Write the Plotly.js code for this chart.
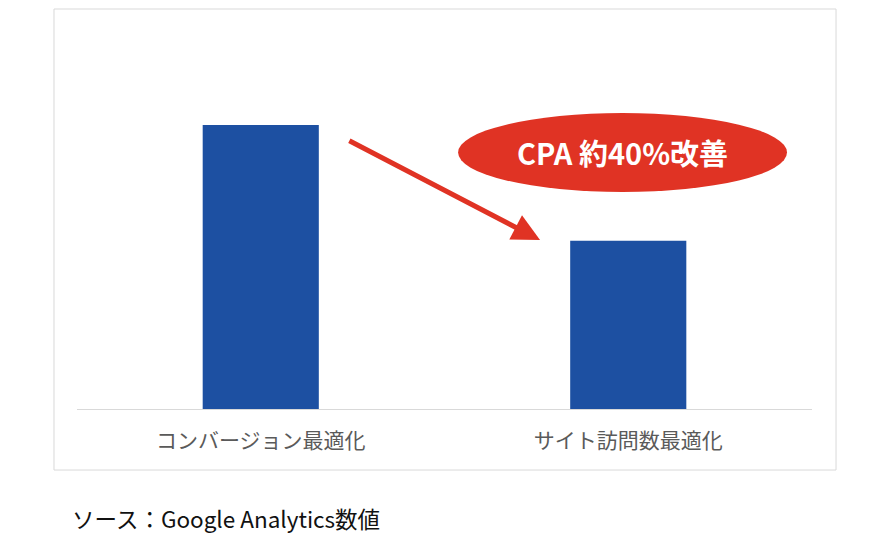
<!DOCTYPE html>
<html>
<head>
<meta charset="utf-8">
<script src="https://cdn.plot.ly/plotly-3.0.1.min.js"></script>
<style>
  body { margin: 0; background: #fff; }
  #chart { width: 894px; height: 537px; }
</style>
</head>
<body>
<div id="chart"></div>
<script>
// CPA comparison (relative, first = 100)
var categories = ['コンバージョン最適化', 'サイト訪問数最適化'];
var cpaValues  = [100, 59.2];
var calloutText = 'CPA 約40%改善';
var sourceText  = 'ソース：Google Analytics数値';

var BLUE = '#1d50a2';
var RED  = '#e03324';
var JP   = '"Noto Sans CJK JP", "Noto Sans", sans-serif';

var trace = {
	type: 'bar',
	x: [0, 1],
	y: cpaValues,
	marker: { color: BLUE, line: { width: 0 } },
	hoverinfo: 'none'
};

var layout = {
	width: 894,
	height: 537,
	margin: { l: 77, r: 82, t: 30, b: 128 },
	paper_bgcolor: '#ffffff',
	plot_bgcolor: '#ffffff',
	showlegend: false,
	bargap: 0.684,
	font: { family: JP },
	xaxis: {
		range: [-0.5, 1.5],
		tickvals: [0, 1],
		ticktext: categories,
		showgrid: false,
		zeroline: false,
		showline: true,
		linecolor: '#d9d9d9',
		linewidth: 1,
		ticks: '',
		ticklabelstandoff: 13,
		tickfont: { family: JP, size: 21, color: '#5a5a5a' }
	},
	yaxis: {
		range: [0, 133.45],
		visible: false,
		showgrid: false,
		zeroline: false
	},
	shapes: [
		{ // outer frame
			type: 'rect', xref: 'paper', yref: 'paper',
			x0: -0.0313, x1: 1.0327, y0: -0.161, y1: 1.0554,
			line: { color: '#d9d9d9', width: 1 }, layer: 'below'
		},
		{ // callout ellipse
			type: 'circle', xref: 'x', yref: 'y',
			x0: 0.537, x1: 1.432, y0: 76.4, y1: 104.2,
			fillcolor: RED, line: { width: 0 }
		}
	],
	annotations: [
		{
			x: 0.983, y: 90.5, xref: 'x', yref: 'y',
			text: '<b>' + calloutText + '</b>',
			showarrow: false,
			font: { family: JP, size: 29, color: '#ffffff' }
		},
		{
			x: 0.76, y: 59.5, xref: 'x', yref: 'y',
			ax: 0.237, ay: 94.7, axref: 'x', ayref: 'y',
			text: '',
			showarrow: true,
			arrowhead: 2,
			arrowsize: 1.1,
			arrowwidth: 5,
			arrowcolor: RED
		},
		{
			x: -0.0095, y: -0.2876, xref: 'paper', yref: 'paper',
			xanchor: 'left', yanchor: 'middle',
			text: sourceText,
			showarrow: false,
			font: { family: JP, size: 22.5, color: '#111111' }
		}
	]
};

Plotly.newPlot('chart', [trace], layout, { staticPlot: true, displayModeBar: false });
</script>
</body>
</html>
